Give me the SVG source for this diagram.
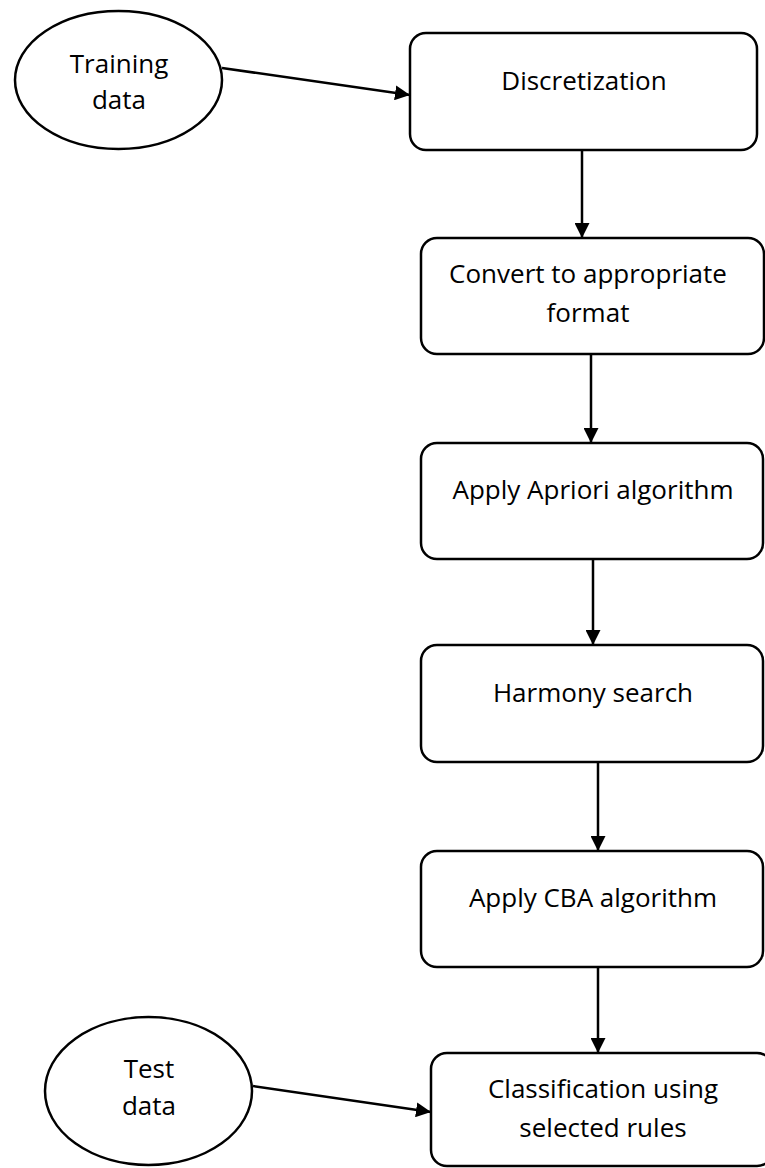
<svg xmlns="http://www.w3.org/2000/svg" width="765" height="1168" viewBox="0 0 765 1168">
<style>
.shape{fill:#fff;stroke:#000;stroke-width:2.5}
.lbl{font-family:"Open Sans","DejaVu Sans",sans-serif;font-size:26px;fill:#000;text-anchor:middle}
.conn{stroke:#000;stroke-width:2.5;fill:none;marker-end:url(#ah)}
</style>
<defs>
<marker id="ah" viewBox="0 0 10 10" refX="10" refY="5" markerWidth="6" markerHeight="6" markerUnits="strokeWidth" orient="auto">
<path d="M0,0 L10,5 L0,10 z" fill="#000"/>
</marker>
</defs>
<rect width="765" height="1168" fill="#fff"/>
<g id="training">
<ellipse class="shape" cx="118.5" cy="80" rx="103.5" ry="69"/>
<text class="lbl" x="119" y="73">Training</text>
<text class="lbl" x="119" y="109">data</text>
</g>
<g id="discretization">
<rect class="shape" x="410" y="33" width="347" height="117" rx="16"/>
<text class="lbl" x="584" y="90">Discretization</text>
</g>
<g id="convert">
<rect class="shape" x="421" y="238" width="343" height="116" rx="16"/>
<text class="lbl" x="588" y="283">Convert to appropriate</text>
<text class="lbl" x="588" y="322">format</text>
</g>
<g id="apriori">
<rect class="shape" x="421" y="443" width="342" height="116" rx="16"/>
<text class="lbl" x="593" y="499">Apply Apriori algorithm</text>
</g>
<g id="harmony">
<rect class="shape" x="421" y="645" width="342" height="117" rx="16"/>
<text class="lbl" x="593" y="702">Harmony search</text>
</g>
<g id="cba">
<rect class="shape" x="421" y="851" width="342" height="116" rx="16"/>
<text class="lbl" x="593" y="907">Apply CBA algorithm</text>
</g>
<g id="classification">
<rect class="shape" x="431" y="1053" width="342" height="113" rx="16"/>
<text class="lbl" x="603" y="1098">Classification using</text>
<text class="lbl" x="603" y="1137">selected rules</text>
</g>
<g id="test">
<ellipse class="shape" cx="148.5" cy="1091" rx="103.5" ry="74"/>
<text class="lbl" x="149" y="1078">Test</text>
<text class="lbl" x="149" y="1115">data</text>
</g>
<g id="connectors">
<line class="conn" x1="222" y1="68" x2="410" y2="95"/>
<line class="conn" x1="582" y1="150" x2="582" y2="238"/>
<line class="conn" x1="591" y1="354" x2="591" y2="443"/>
<line class="conn" x1="593" y1="559" x2="593" y2="645"/>
<line class="conn" x1="598" y1="762" x2="598" y2="851"/>
<line class="conn" x1="598" y1="967" x2="598" y2="1053"/>
<line class="conn" x1="253" y1="1086" x2="431" y2="1112"/>
</g>
</svg>
